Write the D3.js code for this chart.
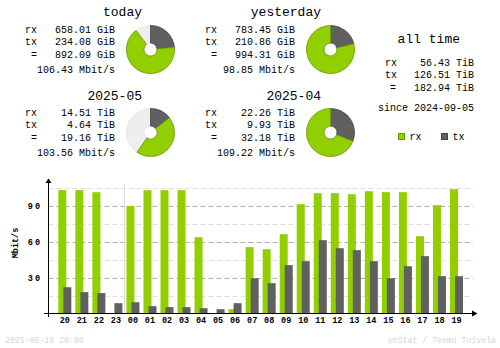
<!DOCTYPE html>
<html>
<head>
<meta charset="utf-8">
<script src="https://cdn.jsdelivr.net/npm/d3@7"></script>
<style>
  html, body { margin: 0; padding: 0; background: #ffffff; }
  svg { display: block; }
  text { font-family: "Liberation Mono", "DejaVu Sans Mono", monospace; }
</style>
</head>
<body>
<script>
// ---- summary data ----
const periods   = ["today", "yesterday", "2025-05", "2025-04"];
const rxTotals  = [658.01, 783.45, 14.51, 22.26];
const txTotals  = [234.08, 210.86, 4.64, 9.93];
const sumTotals = [892.09, 994.31, 19.16, 32.18];
const units     = ["GiB", "GiB", "TiB", "TiB"];
const avgRates  = [106.43, 98.85, 103.56, 109.22];

const allTimeLabels = ["rx", "tx", "="];
const allTimeValues = [56.43, 126.51, 182.94];
const allTimeUnit = "TiB";
const sinceDate = "2024-09-05";

// ---- hourly data (Mbit/s) ----
const hours  = ["20","21","22","23","00","01","02","03","04","05","06","07",
                "08","09","10","11","12","13","14","15","16","17","18","19"];
const rxRate = [102.8, 102.8, 101.1, 0, 89.7, 102.8, 102.8, 102.8, 63.6, 0, 3.6, 55.3,
                53.6, 66.1, 91.1, 100.3, 100.3, 99.4, 101.9, 101.1, 101.1, 64.4, 90.3, 103.6];
const txRate = [21.9, 17.8, 17.0, 8.6, 9.4, 6.1, 5.3, 5.3, 4.4, 3.6, 8.6, 29.4,
                25.3, 40.3, 43.6, 61.1, 54.4, 52.8, 43.6, 29.4, 39.4, 47.8, 31.1, 31.1];
const yTicks = [30, 60, 90];
const yGrid  = [15, 30, 45, 60, 75, 90, 105];

const footerLeft  = "2025-05-19 20:00";
const footerRight = "vnStat / Teemu Toivola";

// ---- colours ----
const C = {
  rx: "#92cf00", rxEdge: "#6b9a00",
  tx: "#606060", txEdge: "#444444",
  empty: "#eeeeee", emptyEdge: "#e2e2e2",
  text: "#000000", faint: "#d6d6d6",
  gridMajor: "#b0b0b0", gridMinor: "#e0e0e0", sep: "#dcdcdc"
};

const svg = d3.select("body").append("svg")
  .attr("width", 500).attr("height", 348);

// ---- summary blocks ----
const blocks = [
  { lx: 25,  vx: 115, tx: 142, cx: 150.5, cy: 49.5,  ty: 16,  rows: [33, 45, 58, 73] },
  { lx: 205, vx: 295, tx: 321, cx: 330.5, cy: 49.5,  ty: 16,  rows: [33, 45, 58, 73] },
  { lx: 25,  vx: 115, tx: 142, cx: 150.5, cy: 132.5, ty: 100, rows: [116, 128, 141, 156] },
  { lx: 205, vx: 295, tx: 321, cx: 330.5, cy: 132.5, ty: 100, rows: [116, 128, 141, 156] }
];

const arc = d3.arc().innerRadius(6.5).outerRadius(24);

blocks.forEach((b, i) => {
  const g = svg.append("g");
  g.append("text").attr("x", b.tx).attr("y", b.ty)
    .attr("text-anchor", "end").attr("font-size", 13).attr("fill", C.text)
    .text(periods[i]);

  const rowLabels = ["rx", "tx", "="];
  const rowVals = [rxTotals[i], txTotals[i], sumTotals[i]];
  rowLabels.forEach((lab, r) => {
    g.append("text").attr("x", lab === "=" ? b.lx + 6 : b.lx).attr("y", b.rows[r])
      .attr("font-size", 10).attr("fill", C.text).text(lab);
    g.append("text").attr("x", b.vx).attr("y", b.rows[r])
      .attr("text-anchor", "end").attr("font-size", 10).attr("fill", C.text)
      .text(rowVals[r].toFixed(2) + " " + units[i]);
  });
  g.append("text").attr("x", b.vx).attr("y", b.rows[3])
    .attr("text-anchor", "end").attr("font-size", 10).attr("fill", C.text)
    .text(avgRates[i].toFixed(2) + " Mbit/s");

  // donut: tx from 12 o'clock clockwise, then rx; share relative to the larger of the pair
  const pair = i < 2 ? [0, 1] : [2, 3];
  const maxTotal = d3.max(pair, j => sumTotals[j]);
  const txA = txTotals[i] / maxTotal * 2 * Math.PI;
  const rxA = rxTotals[i] / maxTotal * 2 * Math.PI;
  const pg = g.append("g").attr("transform", `translate(${b.cx},${b.cy})`);
  pg.append("path").attr("d", arc({ startAngle: 0, endAngle: 2 * Math.PI }))
    .attr("fill", C.empty).attr("stroke", C.emptyEdge).attr("stroke-width", 0.8);
  pg.append("path").attr("d", arc({ startAngle: 0, endAngle: txA }))
    .attr("fill", C.tx).attr("stroke", C.txEdge).attr("stroke-width", 0.8);
  pg.append("path").attr("d", arc({ startAngle: txA, endAngle: Math.min(txA + rxA, 2 * Math.PI) }))
    .attr("fill", C.rx).attr("stroke", C.rxEdge).attr("stroke-width", 0.8);
});

// ---- all time block ----
const at = svg.append("g");
at.append("text").attr("x", 460).attr("y", 43).attr("text-anchor", "end")
  .attr("font-size", 13).attr("fill", C.text).text("all time");
const atRows = [66, 78, 91];
allTimeLabels.forEach((lab, r) => {
  at.append("text").attr("x", lab === "=" ? 390 : 385).attr("y", atRows[r])
    .attr("font-size", 10).attr("fill", C.text).text(lab);
  at.append("text").attr("x", 474).attr("y", atRows[r]).attr("text-anchor", "end")
    .attr("font-size", 10).attr("fill", C.text)
    .text(allTimeValues[r].toFixed(2) + " " + allTimeUnit);
});
at.append("text").attr("x", 474).attr("y", 111).attr("text-anchor", "end")
  .attr("font-size", 10).attr("fill", C.text).text("since " + sinceDate);

// legend
const legend = [["rx", C.rx, C.rxEdge, 398.5], ["tx", C.tx, C.txEdge, 441.5]];
legend.forEach(([name, fill, edge, lx]) => {
  at.append("rect").attr("x", lx).attr("y", 133.5).attr("width", 6).attr("height", 6)
    .attr("fill", fill).attr("stroke", edge).attr("stroke-width", 1);
  at.append("text").attr("x", lx + 11).attr("y", 140)
    .attr("font-size", 10).attr("fill", C.text).text(name);
});

// ---- hourly bar chart ----
const x0 = 56.3, step = 17.03;
const x = d3.scaleBand().domain(hours).range([x0, x0 + step * hours.length]).padding(0);
const y = d3.scaleLinear().domain([0, 105]).range([313.5, 187.5]);
const chartRight = 473;
const axisX = 48.5;

const chart = svg.append("g");

// grid lines
chart.selectAll("line.grid").data(yGrid).enter().append("line")
  .attr("x1", axisX).attr("x2", chartRight)
  .attr("y1", d => Math.round(y(d)) + 0.5).attr("y2", d => Math.round(y(d)) + 0.5)
  .attr("stroke", d => d % 30 === 0 ? C.gridMajor : C.gridMinor)
  .attr("stroke-width", 1).attr("stroke-dasharray", "5,3");

// day change separator
chart.append("line")
  .attr("x1", Math.round(x("00")) + 0.5).attr("x2", Math.round(x("00")) + 0.5)
  .attr("y1", 184).attr("y2", y(0))
  .attr("stroke", C.sep).attr("stroke-width", 1);

const mid = h => x(h) + x.bandwidth() / 2;

chart.selectAll("rect.rx").data(hours).enter().append("rect")
  .attr("x", h => mid(h) - 6.5).attr("width", 8)
  .attr("y", (h, i) => y(rxRate[i])).attr("height", (h, i) => y(0) - y(rxRate[i]))
  .attr("fill", C.rx);

chart.selectAll("rect.tx").data(hours).enter().append("rect")
  .attr("x", h => mid(h) - 1.5).attr("width", 8)
  .attr("y", (h, i) => y(txRate[i])).attr("height", (h, i) => y(0) - y(txRate[i]))
  .attr("fill", C.tx);

// axes
chart.append("line").attr("x1", axisX).attr("x2", axisX).attr("y1", 182).attr("y2", 317)
  .attr("stroke", C.text).attr("stroke-width", 1);
chart.append("line").attr("x1", 44).attr("x2", 474).attr("y1", y(0)).attr("y2", y(0))
  .attr("stroke", C.text).attr("stroke-width", 1);
chart.append("path").attr("d", `M${axisX - 3},${183} L${axisX},${178.5} L${axisX + 3},${183} Z`)
  .attr("fill", C.text);
chart.append("path").attr("d", `M${472},${y(0) - 3} L${477.5},${y(0)} L${472},${y(0) + 3} Z`)
  .attr("fill", C.text);

// y tick labels
const yAxis = d3.axisLeft(y).tickValues(yTicks).tickSize(0).tickPadding(0);
const yg = chart.append("g").attr("transform", `translate(42,0)`).call(yAxis);
yg.select(".domain").remove();
yg.selectAll("text").attr("font-size", 8.5).attr("font-weight", "bold")
  .attr("letter-spacing", 2).attr("fill", C.text)
  .attr("font-family", "Liberation Mono, DejaVu Sans Mono, monospace").attr("dy", "0.36em");

// x tick labels
const xAxis = d3.axisBottom(x).tickSize(0).tickPadding(0);
const xg = chart.append("g").attr("transform", `translate(0,${318})`).call(xAxis);
xg.select(".domain").remove();
xg.selectAll("text").attr("font-size", 8.5).attr("font-weight", "bold")
  .attr("fill", C.text).attr("font-family", "Liberation Mono, DejaVu Sans Mono, monospace")
  .attr("dy", "0.6em");

// y axis title
chart.append("text").attr("transform", "translate(17.5,243) rotate(-90)")
  .attr("text-anchor", "middle").attr("font-size", 8.5).attr("font-weight", "bold")
  .attr("fill", C.text).text("Mbit/s");

// ---- footer ----
svg.append("text").attr("x", 5).attr("y", 343).attr("font-size", 8.2)
  .attr("fill", C.faint).text(footerLeft);
svg.append("text").attr("x", 496).attr("y", 343).attr("text-anchor", "end")
  .attr("font-size", 8.2).attr("fill", C.faint).text(footerRight);
</script>
</body>
</html>
